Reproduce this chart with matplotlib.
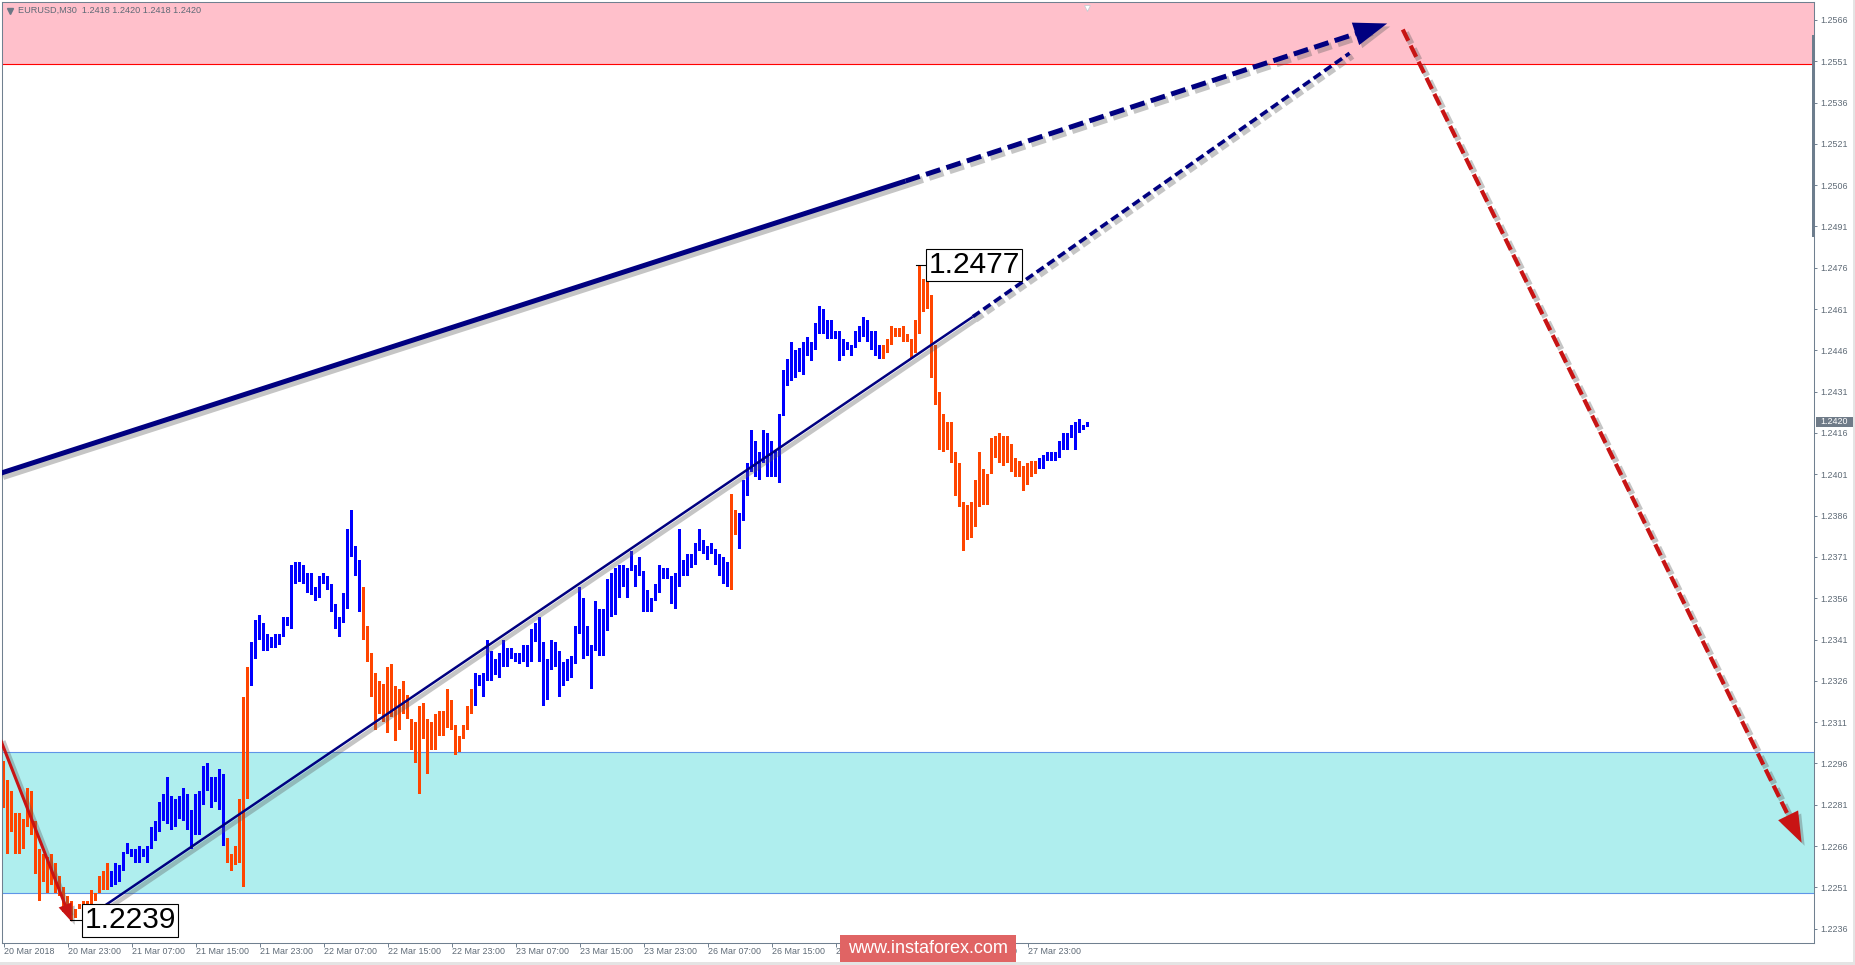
import numpy
import matplotlib
matplotlib.use("Agg")
import matplotlib.pyplot as plt
import matplotlib.patheffects as pe
from matplotlib.patches import Rectangle
from matplotlib.lines import Line2D
from matplotlib.transforms import blended_transform_factory

# DATA (EURUSD, M30, one value per bar)

highs = [
	1.2297, 1.2290, 1.2286, 1.2278, 1.2278, 1.2276, 1.2287, 1.2286, 1.2275, 1.2265,
	1.2263, 1.2262, 1.2263, 1.2260, 1.2255, 1.2251, 1.2248, 1.2246, 1.2243, 1.2245,
	1.2246, 1.2246, 1.2250, 1.2249, 1.2255, 1.2257, 1.2260, 1.2257, 1.2260, 1.2259,
	1.2264, 1.2267, 1.2265, 1.2265, 1.2266, 1.2265, 1.2266, 1.2273, 1.2275, 1.2282,
	1.2285, 1.2291, 1.2284, 1.2283, 1.2284, 1.2287, 1.2285, 1.2279, 1.2285, 1.2286,
	1.2295, 1.2296, 1.2291, 1.2291, 1.2294, 1.2292, 1.2269, 1.2263, 1.2266, 1.2283,
	1.2320, 1.2331, 1.2340, 1.2348, 1.2350, 1.2347, 1.2343, 1.2342, 1.2343, 1.2343,
	1.2349, 1.2349, 1.2368, 1.2369, 1.2369, 1.2368, 1.2365, 1.2365, 1.2360, 1.2364,
	1.2365, 1.2364, 1.2361, 1.2354, 1.2349, 1.2358, 1.2381, 1.2388, 1.2375, 1.2370,
	1.2360, 1.2346, 1.2336, 1.2329, 1.2326, 1.2325, 1.2331, 1.2332, 1.2324, 1.2323,
	1.2326, 1.2321, 1.2312, 1.2311, 1.2317, 1.2318, 1.2312, 1.2311, 1.2314, 1.2315,
	1.2315, 1.2323, 1.2319, 1.2310, 1.2306, 1.2310, 1.2317, 1.2323, 1.2329, 1.2328,
	1.2329, 1.2341, 1.2337, 1.2334, 1.2336, 1.2341, 1.2338, 1.2338, 1.2336, 1.2336,
	1.2339, 1.2339, 1.2345, 1.2347, 1.2349, 1.2340, 1.2334, 1.2341, 1.2340, 1.2337,
	1.2333, 1.2334, 1.2335, 1.2346, 1.2360, 1.2356, 1.2346, 1.2339, 1.2355, 1.2352,
	1.2352, 1.2363, 1.2365, 1.2367, 1.2368, 1.2368, 1.2367, 1.2373, 1.2368, 1.2371,
	1.2366, 1.2359, 1.2356, 1.2361, 1.2368, 1.2367, 1.2367, 1.2364, 1.2365, 1.2381,
	1.2370, 1.2372, 1.2372, 1.2376, 1.2381, 1.2377, 1.2375, 1.2376, 1.2374, 1.2372,
	1.2371, 1.2369, 1.2394, 1.2388, 1.2387, 1.2399, 1.2405, 1.2417, 1.2413, 1.2409,
	1.2417, 1.2416, 1.2413, 1.2410, 1.2423, 1.2439, 1.2443, 1.2449, 1.2446, 1.2447,
	1.2449, 1.2451, 1.2449, 1.2456, 1.2462, 1.2461, 1.2457, 1.2457, 1.2453, 1.2453,
	1.2450, 1.2449, 1.2448, 1.2453, 1.2455, 1.2458, 1.2457, 1.2453, 1.2453, 1.2448,
	1.2448, 1.2450, 1.2455, 1.2454, 1.2454, 1.2455, 1.2452, 1.2450, 1.2457, 1.2477,
	1.2472, 1.2474, 1.2466, 1.2448, 1.2431, 1.2423, 1.2420, 1.2420, 1.2409, 1.2405,
	1.2391, 1.2390, 1.2391, 1.2399, 1.2409, 1.2403, 1.2401, 1.2414, 1.2415, 1.2416,
	1.2415, 1.2415, 1.2412, 1.2407, 1.2406, 1.2404, 1.2405, 1.2406, 1.2406, 1.2407,
	1.2408, 1.2409, 1.2409, 1.2409, 1.2413, 1.2416, 1.2416, 1.2419, 1.2420, 1.2421,
	1.2419, 1.2420,
]

lows = [
	1.2280, 1.2263, 1.2271, 1.2263, 1.2263, 1.2265, 1.2273, 1.2270, 1.2256, 1.2246,
	1.2253, 1.2249, 1.2252, 1.2249, 1.2248, 1.2242, 1.2243, 1.2239, 1.2240, 1.2243,
	1.2242, 1.2243, 1.2244, 1.2246, 1.2249, 1.2250, 1.2250, 1.2251, 1.2252, 1.2253,
	1.2257, 1.2263, 1.2262, 1.2260, 1.2260, 1.2262, 1.2260, 1.2265, 1.2268, 1.2271,
	1.2275, 1.2274, 1.2272, 1.2273, 1.2276, 1.2275, 1.2272, 1.2265, 1.2270, 1.2270,
	1.2281, 1.2286, 1.2280, 1.2282, 1.2279, 1.2266, 1.2260, 1.2257, 1.2259, 1.2260,
	1.2251, 1.2283, 1.2324, 1.2334, 1.2341, 1.2337, 1.2337, 1.2338, 1.2338, 1.2339,
	1.2342, 1.2346, 1.2345, 1.2361, 1.2362, 1.2361, 1.2358, 1.2357, 1.2355, 1.2356,
	1.2361, 1.2359, 1.2351, 1.2345, 1.2342, 1.2347, 1.2352, 1.2371, 1.2364, 1.2351,
	1.2341, 1.2333, 1.2320, 1.2308, 1.2314, 1.2311, 1.2307, 1.2313, 1.2304, 1.2308,
	1.2314, 1.2312, 1.2301, 1.2296, 1.2285, 1.2305, 1.2292, 1.2301, 1.2301, 1.2306,
	1.2306, 1.2309, 1.2308, 1.2299, 1.2300, 1.2305, 1.2308, 1.2314, 1.2317, 1.2324,
	1.2320, 1.2326, 1.2326, 1.2328, 1.2327, 1.2331, 1.2331, 1.2334, 1.2333, 1.2332,
	1.2333, 1.2331, 1.2333, 1.2340, 1.2333, 1.2317, 1.2319, 1.2330, 1.2331, 1.2320,
	1.2324, 1.2326, 1.2327, 1.2332, 1.2343, 1.2334, 1.2335, 1.2323, 1.2337, 1.2335,
	1.2335, 1.2344, 1.2349, 1.2350, 1.2356, 1.2360, 1.2356, 1.2366, 1.2360, 1.2364,
	1.2351, 1.2351, 1.2351, 1.2355, 1.2358, 1.2363, 1.2363, 1.2354, 1.2352, 1.2360,
	1.2364, 1.2364, 1.2367, 1.2368, 1.2373, 1.2372, 1.2370, 1.2372, 1.2368, 1.2364,
	1.2361, 1.2360, 1.2359, 1.2379, 1.2374, 1.2384, 1.2393, 1.2402, 1.2400, 1.2399,
	1.2405, 1.2400, 1.2400, 1.2400, 1.2398, 1.2422, 1.2433, 1.2435, 1.2436, 1.2438,
	1.2437, 1.2444, 1.2442, 1.2446, 1.2452, 1.2452, 1.2450, 1.2450, 1.2450, 1.2442,
	1.2444, 1.2446, 1.2444, 1.2447, 1.2449, 1.2451, 1.2449, 1.2446, 1.2444, 1.2443,
	1.2443, 1.2445, 1.2448, 1.2451, 1.2451, 1.2449, 1.2449, 1.2443, 1.2445, 1.2452,
	1.2460, 1.2461, 1.2436, 1.2426, 1.2410, 1.2409, 1.2410, 1.2405, 1.2393, 1.2389,
	1.2373, 1.2377, 1.2378, 1.2382, 1.2389, 1.2390, 1.2390, 1.2401, 1.2407, 1.2405,
	1.2404, 1.2405, 1.2402, 1.2400, 1.2400, 1.2395, 1.2397, 1.2400, 1.2401, 1.2403,
	1.2403, 1.2406, 1.2406, 1.2406, 1.2407, 1.2410, 1.2410, 1.2414, 1.2410, 1.2416,
	1.2417, 1.2418,
]

# Bars that closed down: (first, last) index.
downRuns = [(0, 26), (56, 61), (90, 117), (182, 183), (220, 258)]

timeTicks = [0, 16, 32, 48, 64, 80, 96, 112, 128, 144, 160, 176, 192, 208, 224, 240, 256]
timeLabels = ["20 Mar 2018", "20 Mar 23:00", "21 Mar 07:00", "21 Mar 15:00", "21 Mar 23:00",
	"22 Mar 07:00", "22 Mar 15:00", "22 Mar 23:00", "23 Mar 07:00", "23 Mar 15:00",
	"23 Mar 23:00", "26 Mar 07:00", "26 Mar 15:00", "26 Mar 23:00", "27 Mar 07:00",
	"27 Mar 15:00", "27 Mar 23:00"]

priceTicks = [1.2566, 1.2551, 1.2536, 1.2521, 1.2506, 1.2491, 1.2476, 1.2461, 1.2446, 1.2431,
	1.2416, 1.2401, 1.2386, 1.2371, 1.2356, 1.2341, 1.2326, 1.2311, 1.2296, 1.2281,
	1.2266, 1.2251, 1.2236]

sellZone = (1.2550, 1.2600)
buyZone = (1.2249, 1.2300)

# Wave marks as (bar, price).
thickWave = [(-0.9, 1.24013), (225.5, 1.25075), (345.9, 1.25647)]
thinWave = [(19.95, 1.22391), (242.3, 1.24582), (336.5, 1.25539)]
forecastWave = [(349.8, 1.25625), (449.5, 1.22672)]
previousWave = [(-0.9, 1.23052), (17.05, 1.22385)]

lowBar, lowPrice, lowText = 17, 1.2239, "1.2239"
highBar, highPrice, highText = 229, 1.2477, "1.2477"
lastPrice = 1.2420
header = "EURUSD,M30  1.2418 1.2420 1.2418 1.2420"
watermark = "www.instaforex.com"

# STYLE

plt.rcParams["font.family"] = ["Liberation Sans", "DejaVu Sans"]

W, H = 1856, 965
frameGrey = "#708090"
textGrey = "#5e6a76"
navy = "#000080"
darkRed = "#c81414"

fig = plt.figure(figsize=(W / 100, H / 100), dpi=100)
fig.patch.set_facecolor("white")

ax = fig.add_axes([2 / W, 22 / H, 1812 / W, 941 / H])
ax.set_xlim(-0.375, 452.6)
ax.set_ylim(1.22308, 1.25725)
ax.set_facecolor("white")

for spine in ax.spines.values():
	spine.set_color(frameGrey)
	spine.set_linewidth(0.75)

# ZONES

ax.axhspan(sellZone[0], sellZone[1], color="#ffc0cb", linewidth=0, zorder=0.5)
ax.axhline(sellZone[0], color="#ff0000", linewidth=0.8, zorder=0.6)
ax.axhspan(buyZone[0], buyZone[1], color="#afeeee", linewidth=0, zorder=0.5)
ax.axhline(buyZone[0], color="#5f95e8", linewidth=0.8, zorder=0.6)
ax.axhline(buyZone[1], color="#5f95e8", linewidth=0.8, zorder=0.6)

# BARS

highs = numpy.array(highs)
lows = numpy.array(lows)
index = numpy.arange(len(highs))

colours = ["#0000ff"] * len(highs)
for first, last in downRuns:
	for k in range(first, last + 1):
		colours[k] = "#ff4500"

ax.bar(index, highs - lows, bottom=lows, width=0.62, color=colours, linewidth=0, zorder=2)

# WAVES

def shadow(width: float) -> list:
	return [pe.SimpleLineShadow(offset=(2.2, -2.2), shadow_color="0.35", alpha=0.35, linewidth=width + 1.5), pe.Normal()]

def backOff(start, tip, pixels: float):
	a = ax.transData.transform(start)
	b = ax.transData.transform(tip)
	d = b - a
	return ax.transData.inverted().transform(b - d / numpy.hypot(*d) * pixels)

def arrowHead(start, tip, colour: str, length: float, width: float) -> None:
	back = backOff(start, tip, 5)
	ax.annotate("", xy=tip, xytext=back, arrowprops=dict(arrowstyle="-|>,head_length=%s,head_width=%s" % (length, width),
		color=colour, lw=0, shrinkA=0, shrinkB=0, mutation_scale=1,
		path_effects=[pe.SimplePatchShadow(offset=(2.2, -2.2), shadow_rgbFace="0.35", alpha=0.35), pe.Normal()]), zorder=4)

# Thick wave line, then its dashed continuation with an arrow.
(x0, y0), (x1, y1), (x2, y2) = thickWave
ax.plot([x0, x1], [y0, y1], color=navy, linewidth=3.6, solid_capstyle="butt", path_effects=shadow(3.6), zorder=3)
end = backOff((x1, y1), (x2, y2), 18)
ax.plot([x1, end[0]], [y1, end[1]], color=navy, linewidth=3.6, dashes=(3.0, 1.3), path_effects=shadow(3.6), zorder=3)
arrowHead((x1, y1), (x2, y2), navy, 24, 8.5)

# Thin wave line.
(x0, y0), (x1, y1), (x2, y2) = thinWave
ax.plot([x0, x1], [y0, y1], color=navy, linewidth=1.8, solid_capstyle="butt", path_effects=shadow(1.8), zorder=3)
ax.plot([x1, x2], [y1, y2], color=navy, linewidth=2.6, dashes=(2.4, 1.2), path_effects=shadow(2.6), zorder=3)

# Forecast (red dashed arrow).
(x0, y0), (x1, y1) = forecastWave
end = backOff((x0, y0), (x1, y1), 18)
ax.plot([x0, end[0]], [y0, end[1]], color=darkRed, linewidth=3.0, dashes=(3.0, 1.3), path_effects=shadow(3.0), zorder=3)
arrowHead((x0, y0), (x1, y1), darkRed, 22, 8)

# Previous wave (red solid arrow).
(x0, y0), (x1, y1) = previousWave
end = backOff((x0, y0), (x1, y1), 10)
ax.plot([x0, end[0]], [y0, end[1]], color=darkRed, linewidth=2.2, solid_capstyle="butt", path_effects=shadow(2.2), zorder=3)
arrowHead((x0, y0), (x1, y1), darkRed, 13, 5)

# PRICE LABELS

boxStyle = dict(boxstyle="square,pad=0.08", facecolor="white", edgecolor="black", linewidth=0.8)

ax.plot([lowBar - 0.3, 19.7], [lowPrice, lowPrice], color="black", linewidth=0.8, zorder=5)
ax.text(20.3, lowPrice, lowText, fontsize=21.5, color="black", ha="left", va="center", bbox=boxStyle, zorder=6)

ax.plot([highBar - 0.9, 230.6], [highPrice, highPrice], color="black", linewidth=0.8, zorder=5)
ax.text(231.2, highPrice, highText, fontsize=21.5, color="black", ha="left", va="center", bbox=boxStyle, zorder=6)

# AXES

ax.yaxis.tick_right()
ax.set_yticks(priceTicks)
ax.set_yticklabels(["%.4f" % p for p in priceTicks])
ax.tick_params(axis="y", length=2.2, width=0.7, color=frameGrey, labelsize=6.4, labelcolor=textGrey, pad=2.2)

ax.set_xticks(timeTicks)
ax.set_xticklabels(timeLabels, ha="left")
ax.tick_params(axis="x", length=2.6, width=0.7, color=frameGrey, labelsize=6.4, labelcolor=textGrey, pad=0.6)

blend = blended_transform_factory(ax.transAxes, ax.transData)
ax.add_patch(Rectangle((1.0011, lastPrice - 0.000176), 0.0204, 0.000352, transform=blend, facecolor="#6f7b88", edgecolor="none", clip_on=False, zorder=6))
ax.text(1.0113, lastPrice, "%.4f" % lastPrice, transform=blend, fontsize=6.4, color="white", ha="center", va="center", clip_on=False, zorder=7)

# Chart shift marker at the top.
ax.plot([270.9], [0.994], transform=blended_transform_factory(ax.transData, ax.transAxes), marker="v", markersize=5, markerfacecolor="white", markeredgecolor="#c8ccd2", markeredgewidth=0.6, zorder=6)

# FRAME EXTRAS

fig.add_artist(Rectangle((1812.5 / W, 1 - 237 / H), 3 / W, 202 / H, transform=fig.transFigure, facecolor="#6d7d8d", edgecolor="none"))
fig.add_artist(Rectangle((0, 0), 1, 3 / H, transform=fig.transFigure, facecolor="#e4e4e4", edgecolor="none"))
fig.add_artist(Rectangle((1853 / W, 0), 3 / W, 1, transform=fig.transFigure, facecolor="#e4e4e4", edgecolor="none"))

fig.add_artist(Line2D([9.7 / W], [1 - 10.5 / H], marker="v", markersize=4, color="#6b7785", linewidth=0, transform=fig.transFigure))
fig.text(18.3 / W, 1 - 10.7 / H, header, fontsize=6.6, color=textGrey, ha="left", va="center")

fig.add_artist(Rectangle((840 / W, 3 / H), 176 / W, 27 / H, transform=fig.transFigure, facecolor="#e06464", edgecolor="none", zorder=5))
fig.text(928 / W, 1 - 948.5 / H, watermark, fontsize=13, color="white", ha="center", va="center", zorder=6)

fig.savefig("out.png", dpi=100)
